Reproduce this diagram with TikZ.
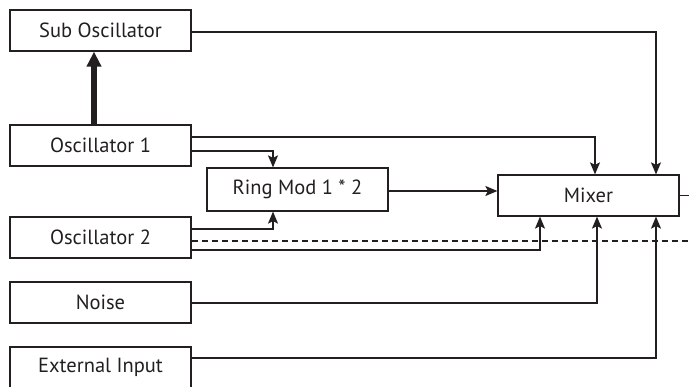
\documentclass[tikz,border=0pt]{standalone}
\usepackage{fontspec}
\setmainfont{PT Sans}
\usetikzlibrary{arrows.meta}
\definecolor{ink}{HTML}{231F20}

\begin{document}
\begin{tikzpicture}[x=1pt, y=-1pt, ink, line width=1.2pt,
		box/.style={draw, rectangle, minimum width=181pt, minimum height=41pt, inner sep=0pt, font=\fontsize{20.5}{24}\selectfont},
		sig/.style={-{Stealth[length=12pt, width=10pt, inset=2.5pt]}}]
	\path[use as bounding box] (0,0) rectangle (689,387);
	
	% Sources
	\node[box] (subosc) at (100.5, 30.5) {Sub Oscillator};
	\node[box] (oscone) at (100.5, 145.5) {Oscillator 1};
	\node[box] (osctwo) at (100.5, 237.5) {Oscillator 2};
	\node[box] (noise) at (100.5, 302.5) {Noise};
	\node[box] (extin) at (100.5, 367.5) {External Input};
	
	% Processing
	\node[box, minimum height=43pt] (ringmod) at (297.5, 189.5) {Ring Mod 1 * 2};
	\node[box] (mixer) at (588.5, 195.5) {Mixer};
	
	% Free ends at the right edge
	\coordinate (dashend) at (689, 241);
	\coordinate (outend) at (689, 195.5);
	
	% Sync
	\draw[line width=6pt, -{Triangle[length=15pt, width=14pt]}] ([xshift=-6.5pt]oscone.north) -- ([xshift=-6.5pt]subosc.south);
	
	% To the ring modulator
	\draw[sig] ([yshift=-5.5pt]oscone.east) -| ([xshift=-24.5pt]ringmod.north);
	\draw[sig] ([yshift=8.5pt]osctwo.east) -| ([xshift=-24.5pt]ringmod.south);
	
	% To the mixer
	\draw[sig] ([yshift=-1.5pt]subosc.east) -| ([xshift=67.5pt]mixer.north);
	\draw[sig] ([yshift=8.5pt]oscone.east) -| ([xshift=6.5pt]mixer.north);
	\draw[sig] ([yshift=-1.5pt]ringmod.east) -- ([yshift=4.5pt]mixer.west);
	\draw[sig] ([yshift=-12.5pt]osctwo.east) -| ([xshift=-48.5pt]mixer.south);
	\draw[sig] ([yshift=-0.5pt]noise.east) -| ([xshift=8.5pt]mixer.south);
	\draw[sig] ([yshift=9.5pt]extin.east) -| ([xshift=67.5pt]mixer.south);
	
	% Out
	\draw[dashed, dash pattern=on 6pt off 4pt] ([yshift=-3.5pt]osctwo.east) -- (dashend);
	\draw (mixer.east) -- (outend);
\end{tikzpicture}
\end{document}
